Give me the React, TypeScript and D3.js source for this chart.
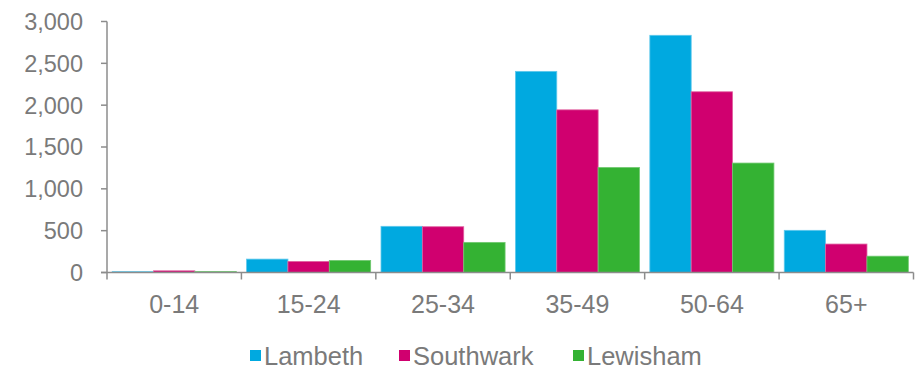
import React from "react";
import * as d3 from "d3";

const categories = ["0-14", "15-24", "25-34", "35-49", "50-64", "65+"];
const seriesNames = ["Lambeth", "Southwark", "Lewisham"];
const lambeth = [10, 160, 552, 2404, 2835, 504];
const southwark = [20, 132, 547, 1944, 2160, 340];
const lewisham = [12, 144, 360, 1255, 1308, 195];
const yTicks = [0, 500, 1000, 1500, 2000, 2500, 3000];
const colors = ["#00A9E0", "#D0006F", "#34B233"];
const strokes = ["#5fc8ec", "#e060a0", "#70c870"];

const W = 918, H = 370;
const left = 107, right = 913.5, top = 21.5, bottom = 272.5;
const FONT = "'Liberation Sans', Arial, sans-serif";
const TXT = "#7a7a7a";
const AX = "#8c8c8c";

export default function App() {
  const series = [lambeth, southwark, lewisham];
  const x = d3.scaleBand().domain(categories).range([left, right]).paddingInner(0).paddingOuter(0);
  const x1 = d3.scaleBand().domain(seriesNames).range([0, x.bandwidth()]).paddingOuter(0.125).paddingInner(0);
  const y = d3.scaleLinear().domain([0, 3000]).range([bottom, top]);
  const legendX = [250, 399, 573];

  return (
    <svg width={W} height={H} style={{ position: "absolute", left: 0, top: 0 }}>
      <rect width={W} height={H} fill="#fff" />
      {categories.map((c, i) =>
        series.map((s, j) => (
          <rect
            key={c + j}
            x={(x(c) as number) + (x1(seriesNames[j]) as number)}
            y={y(s[i])}
            width={x1.bandwidth()}
            height={bottom - y(s[i])}
            fill={colors[j]}
            stroke={strokes[j]}
            strokeWidth={0.8}
          />
        ))
      )}
      {/* y axis */}
      <line x1={left} x2={left} y1={top} y2={bottom} stroke={AX} strokeWidth={1.5} />
      {yTicks.map((t) => (
        <g key={t}>
          <line x1={left - 6} x2={left} y1={y(t)} y2={y(t)} stroke={AX} strokeWidth={1.5} />
          <text x={83} y={y(t)} dy="0.36em" textAnchor="end" fontFamily={FONT} fontSize={23.5} fill={TXT}>
            {d3.format(",")(t)}
          </text>
        </g>
      ))}
      {/* x axis */}
      <line x1={left - 6} x2={right} y1={bottom} y2={bottom} stroke={AX} strokeWidth={1.5} />
      {categories.map((c) => (
        <line key={c} x1={x(c) as number} x2={x(c) as number} y1={bottom} y2={bottom + 7} stroke={AX} strokeWidth={1.5} />
      ))}
      <line x1={right} x2={right} y1={bottom} y2={bottom + 7} stroke={AX} strokeWidth={1.5} />
      {categories.map((c) => (
        <text key={c} x={(x(c) as number) + x.bandwidth() / 2} y={313} textAnchor="middle" fontFamily={FONT} fontSize={25} fill={TXT}>
          {c}
        </text>
      ))}
      {/* legend */}
      {seriesNames.map((n, j) => (
        <g key={n}>
          <rect x={legendX[j]} y={350} width={11} height={11} fill={colors[j]} />
          <text x={legendX[j] + 14} y={365} fontFamily={FONT} fontSize={25.5} fill={TXT}>
            {n}
          </text>
        </g>
      ))}
    </svg>
  );
}
